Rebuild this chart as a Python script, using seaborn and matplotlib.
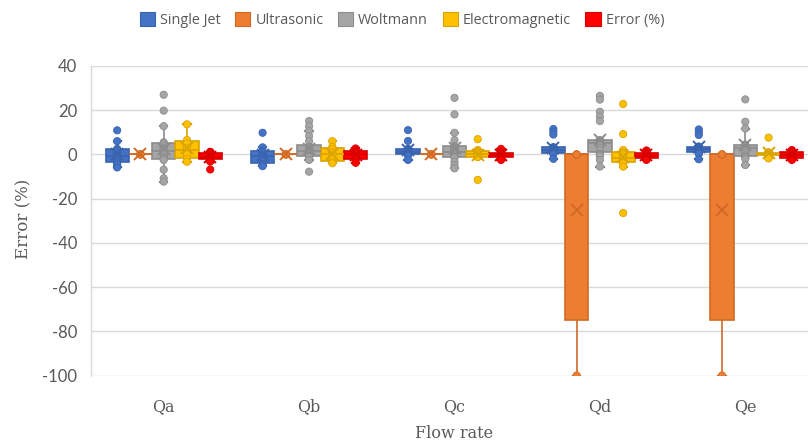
import numpy as np
import pandas as pd
import matplotlib
matplotlib.use("Agg")
import matplotlib.pyplot as plt
import matplotlib.cbook as cbook
from matplotlib.patches import Patch
import seaborn as sns

# ---- data: relative error (%) of each meter, per flow rate ----
flow_rates = ["Qa", "Qb", "Qc", "Qd", "Qe"]
meters = ["Single Jet", "Ultrasonic", "Woltmann", "Electromagnetic", "Error (%)"]

single_jet = [
    [10.9, 6.0, 2.5, 2.0, 1.5, 0.5, -0.5, -1.0, -2.0, -3.0, -3.8, -4.5, -5.9],
    [9.8, 3.2, 1.5, 1.0, 0.0, -0.5, -1.0, -2.0, -3.0, -4.2, -4.5, -5.3],
    [11.0, 6.1, 2.5, 2.2, 2.0, 1.5, 1.0, 0.8, 0.3, 0.0, -0.5, -2.5],
    [11.5, 10.3, 9.0, 3.3, 3.0, 2.8, 2.5, 2.2, 2.0, 1.5, 1.2, 1.0, 0.8, 0.5, 0.2, -2.0],
    [11.3, 10.0, 8.8, 3.6, 3.3, 3.0, 2.8, 2.5, 2.2, 2.0, 1.5, 1.2, 0.9, 0.6, 0.3, -2.2],
]
ultrasonic = [
    [0.0, 0.0, 0.0, 0.0],
    [0.0, 0.0, 0.0, 0.0],
    [0.0, 0.0, 0.0, 0.0],
    [0.0, 0.0, 0.0, -100.0],
    [0.0, 0.0, 0.0, -100.0],
]
woltmann = [
    [27.0, 19.8, 12.8, 5.5, 5.0, 4.0, 3.0, 2.5, 2.0, 1.0, 0.0, -1.0, -1.5, -2.0, -2.5, -6.9, -10.8, -12.3],
    [15.1, 12.8, 10.6, 8.3, 6.0, 3.5, 3.2, 3.0, 2.5, 2.2, 2.0, 1.5, 1.0, 0.5, 0.3, 0.0, -0.5, -0.8, -1.0, -1.2, -2.5, -7.8],
    [25.6, 18.1, 9.8, 6.5, 3.8, 3.3, 3.0, 2.5, 2.0, 1.5, 1.0, 0.5, 0.0, -0.5, -1.0, -1.2, -1.5, -3.3, -4.8, -6.3],
    [26.5, 24.8, 19.3, 17.1, 15.1, 6.5, 6.0, 5.9, 5.8, 5.6, 5.5, 5.4, 5.2, 5.0, 4.5, 4.0, 3.0, 2.0, 0.5, 0.0, -0.3, -0.6, -2.5, -5.5],
    [24.9, 14.8, 11.7, 4.5, 4.2, 4.0, 3.5, 3.0, 2.5, 1.5, 0.5, -0.5, -1.0, -1.2, -2.0, -4.8],
]
electromagnetic = [
    [13.6, 6.5, 5.0, 3.0, 1.0, 0.0, -2.0, -3.3],
    [6.0, 3.5, 2.5, 1.0, 0.0, -0.5, -2.0, -3.5, -4.0],
    [6.9, 2.0, 1.5, 1.0, 0.5, 0.0, -0.5, -1.0, -1.2, -11.5],
    [22.8, 9.2, 2.0, 1.0, 0.5, 0.0, -1.0, -2.0, -3.0, -3.2, -3.5, -4.0, -5.5, -26.5],
    [7.6, 1.0, 0.5, 0.2, 0.0, 0.0, -0.3, -0.5, -1.8],
]
error_pct = [
    [1.2, 1.0, 0.5, 0.0, -0.5, -1.0, -1.5, -2.0, -2.2, -3.2, -6.8],
    [2.7, 2.0, 1.5, 1.0, 0.5, 0.0, -0.5, -1.0, -2.0, -2.5, -3.8],
    [2.5, 1.0, 0.8, 0.5, 0.0, -0.3, -0.8, -1.2, -1.5, -2.5],
    [1.8, 1.0, 0.5, 0.0, -0.5, -1.0, -1.5, -2.0, -2.5],
    [2.0, 1.5, 1.0, 0.5, 0.0, -0.5, -1.0, -1.5, -2.2, -2.5],
]

y_ticks = [-100, -80, -60, -40, -20, 0, 20, 40]

fill_colors = ["#4472C4", "#ED7D31", "#A5A5A5", "#FFC000", "#FF0000"]
line_colors = ["#3A63AE", "#D06A24", "#8C8C8C", "#D9A300", "#D90000"]
text_color = "#595959"
grid_color = "#D9D9D9"

# ---- long-form table ----
rows = []
for meter, per_flow in zip(meters, [single_jet, ultrasonic, woltmann, electromagnetic, error_pct]):
    for flow, values in zip(flow_rates, per_flow):
        for v in values:
            rows.append((flow, meter, v))
df = pd.DataFrame(rows, columns=["Flow rate", "Meter", "Error"])


# Quartiles computed the "exclusive median" way used by spreadsheet box charts
_base_boxplot_stats = cbook.boxplot_stats


def exclusive_boxplot_stats(X, whis=1.5, bootstrap=None, labels=None, autorange=False):
    stats = _base_boxplot_stats(X, whis=whis, bootstrap=bootstrap,
                                labels=labels, autorange=autorange)
    for st, x in zip(stats, X):
        x = np.asarray(x, dtype=float)
        q1, med, q3 = np.percentile(x, [25, 50, 75], method="weibull")
        iqr = q3 - q1
        lo, hi = q1 - whis * iqr, q3 + whis * iqr
        inside = x[(x >= lo) & (x <= hi)]
        st.update(q1=q1, med=med, q3=q3, iqr=iqr,
                  whislo=inside.min(), whishi=inside.max(),
                  fliers=x[(x < lo) | (x > hi)])
    return stats


cbook.boxplot_stats = exclusive_boxplot_stats

# ---- figure ----
fig = plt.figure(figsize=(8.08, 4.46), dpi=100)
ax = fig.add_axes([91 / 808, 70.5 / 446, 727 / 808, 309.5 / 446])

sns.boxplot(
    data=df, x="Flow rate", y="Error", hue="Meter",
    order=flow_rates, hue_order=meters, palette=fill_colors, saturation=1,
    width=0.8, gap=0, whis=1.5, showfliers=False, showmeans=True,
    meanprops=dict(marker="x", markersize=9, markeredgewidth=1.4),
    linewidth=1.2, legend=False, ax=ax,
)
cap_half = 0.025
for cont, fc, lc in zip(ax.containers, fill_colors, line_colors):
    for b in cont.boxes:
        b.set_facecolor(fc)
        b.set_edgecolor(lc)
    for ln in list(cont.medians) + list(cont.whiskers):
        ln.set_color(lc)
    for ln in cont.caps:
        ln.set_color(lc)
        ln.set_linewidth(1.6)
        xs = np.asarray(ln.get_xdata(), dtype=float)
        c = xs.mean()
        ln.set_xdata([c - cap_half, c + cap_half])
    for ln in cont.means:
        ln.set_markeredgecolor(lc)
        ln.set_markerfacecolor(lc)
        ln.set_zorder(5)

n_before = len(ax.collections)
sns.stripplot(
    data=df, x="Flow rate", y="Error", hue="Meter",
    order=flow_rates, hue_order=meters, palette=fill_colors,
    dodge=True, jitter=False, size=5.2, linewidth=0.6, legend=False,
    ax=ax, zorder=4,
)
face_to_line = {matplotlib.colors.to_hex(f): l for f, l in zip(fill_colors, line_colors)}
for coll in ax.collections[n_before:]:
    fcs = coll.get_facecolors()
    if len(fcs):
        key = matplotlib.colors.to_hex(fcs[0])
        coll.set_edgecolor(face_to_line.get(key, key))

# ---- axes styling ----
ax.set_xlim(-0.5, 4.5)
ax.set_ylim(-100, 40)
ax.set_yticks(y_ticks)
ax.set_yticklabels([str(t) for t in y_ticks], fontfamily="Lato", fontsize=12, color=text_color)
ax.set_xticks(range(len(flow_rates)))
ax.set_xticklabels(flow_rates, fontfamily="DejaVu Serif", fontsize=11.5, color=text_color)
ax.tick_params(axis="both", length=0)
ax.tick_params(axis="y", pad=10)
ax.tick_params(axis="x", pad=16)

ax.yaxis.grid(True, color=grid_color, linewidth=1)
ax.xaxis.grid(False)
ax.set_axisbelow(True)
for side in ["top", "right", "bottom"]:
    ax.spines[side].set_visible(False)
ax.spines["left"].set_color(grid_color)
ax.spines["left"].set_linewidth(1)
ax.set_facecolor("white")

ax.set_xlabel("Flow rate", fontfamily="DejaVu Serif", fontsize=11.5, color=text_color)
ax.set_ylabel("Error (%)", fontfamily="DejaVu Serif", fontsize=12, color=text_color)
ax.xaxis.set_label_coords(0.5, -0.16)
ax.yaxis.set_label_coords(-0.08, 0.506)

handles = [Patch(facecolor=fc, edgecolor=lc, linewidth=0.8) for fc, lc in zip(fill_colors, line_colors)]
fig.legend(
    handles, meters, loc="center", bbox_to_anchor=(0.4975, 0.955), ncol=5,
    frameon=False, handlelength=1.05, handleheight=1.05, handletextpad=0.35,
    columnspacing=1.0, prop={"family": "Open Sans", "size": 10.4},
    labelcolor=text_color,
)

fig.savefig("out.png", dpi=100, facecolor="white")
